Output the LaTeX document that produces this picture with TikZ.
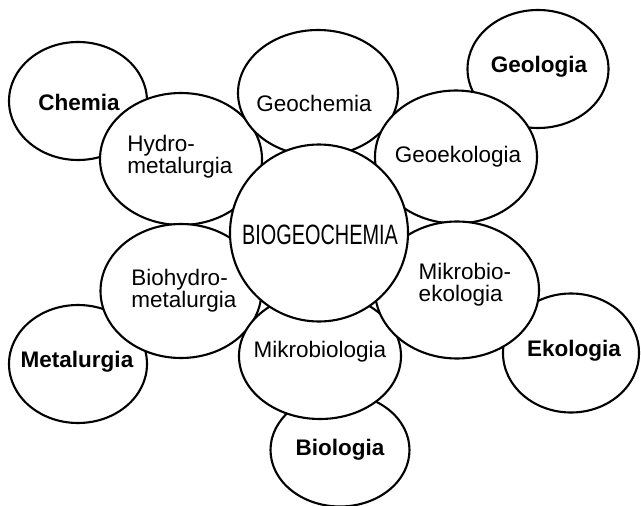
\documentclass[tikz,border=0pt]{standalone}
\usepackage{fontspec}
\setmainfont{Liberation Sans}
\usepackage{graphicx}
\usetikzlibrary{shapes.geometric}
\tikzset{
  bub/.style={ellipse, draw=black, fill=white, line width=2.1pt, inner sep=0pt},
  inner/.style={font=\fontsize{22.5}{22}\selectfont, align=left, inner sep=0pt},
  outer/.style={font=\fontsize{22.5}{22}\selectfont\bfseries, inner sep=0pt}
}
\begin{document}
\begin{tikzpicture}[x=1pt,y=-1pt]
\useasboundingbox (0,0) rectangle (641,506);
\fill[white] (0,0) rectangle (641,506);
% outer circles
\node[bub, minimum width=138, minimum height=118] (chemia) at (78,101) {};
\node[bub, minimum width=141, minimum height=118] (geologia) at (538,69) {};
\node[bub, minimum width=138, minimum height=118] (metalurgia) at (78,364) {};
\node[bub, minimum width=136, minimum height=119] (ekologia) at (571,353) {};
\node[bub, minimum width=139, minimum height=113] (biologia) at (340,450) {};
% ring
\node[bub, minimum width=162, minimum height=132] (hydro) at (181,159) {};
\node[bub, minimum width=161, minimum height=134] (biohydro) at (181,291) {};
\node[bub, minimum width=162, minimum height=126] (mikrobiologia) at (320,356) {};
\node[bub, minimum width=160, minimum height=126] (geochemia) at (318,93) {};
\node[bub, minimum width=162, minimum height=133] (geoeko) at (456,157) {};
\node[bub, minimum width=164, minimum height=137] (mikroeko) at (457,290) {};
% centre
\node[bub, minimum width=178, minimum height=177] (biogeo) at (319,233) {};
% texts
\node[outer] (tchemia) at (79,102) {Chemia};
\node[outer] (tgeologia) at (539,67) {Geologia};
\node[outer] (tmetalurgia) at (77,362) {Metalurgia};
\node[outer] (tekologia) at (574,351) {Ekologia};
\node[outer] (tbiologia) at (340,450) {Biologia};
\node[inner] (tgeochemia) at (314,103) {Geochemia};
\node[inner] (tgeoeko) at (458,157) {Geoekologia};
\node[inner] (tmikrobiologia) at (320,352) {Mikrobiologia};
\node[inner] (thydro) at (180,157) {Hydro-\\metalurgia};
\node[inner] (tbiohydro) at (184,291) {Biohydro-\\metalurgia};
\node[inner] (tmikroeko) at (465,285) {Mikrobio-\\ekologia};
\node[inner] (tbiogeo) at (320,235) {\scalebox{0.71}[1]{\fontsize{28}{28}\selectfont BIOGEOCHEMIA}};
\end{tikzpicture}
\end{document}
